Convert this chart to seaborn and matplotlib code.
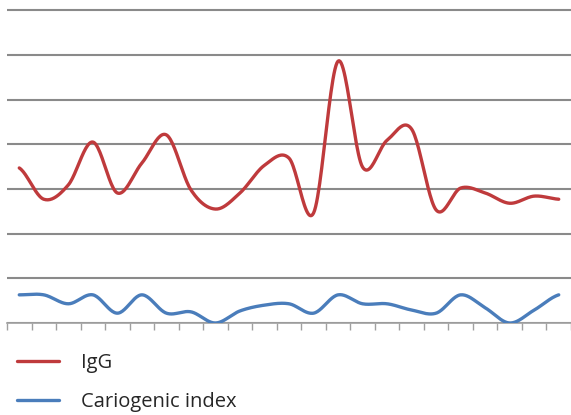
import numpy as np
import pandas as pd
import matplotlib
matplotlib.use("Agg")
import matplotlib.pyplot as plt
import seaborn as sns

# values, in gridline units (axis = 0, top gridline = 7)
igg = [3.47, 2.77, 3.09, 4.05, 2.91, 3.58, 4.21, 2.98, 2.55, 2.91, 3.53, 3.69,
       2.46, 5.86, 3.49, 4.09, 4.34, 2.53, 3.02, 2.91, 2.68, 2.84, 2.77]
cariogenic = [0.63, 0.63, 0.43, 0.63, 0.22, 0.63, 0.22, 0.25, 0.00, 0.27, 0.40, 0.43,
              0.22, 0.63, 0.43, 0.43, 0.29, 0.22, 0.63, 0.34, 0.00, 0.29, 0.63]
series_names = ["IgG", "Cariogenic index"]
colors = ["#bf3a3c", "#4a7dbb"]


def smooth(y, n=24):
    # Excel-style smoothed line (Catmull-Rom via cubic Bezier segments)
    y = np.asarray(y, float)
    p = np.concatenate([[y[0]], y, [y[-1]]])
    xs, ys = [], []
    t = np.linspace(0, 1, n, endpoint=False)
    for i in range(len(y) - 1):
        p0, p1, p2, p3 = p[i], p[i + 1], p[i + 2], p[i + 3]
        c1 = p1 + (p2 - p0) / 6
        c2 = p2 - (p3 - p1) / 6
        ys.append((1 - t) ** 3 * p1 + 3 * (1 - t) ** 2 * t * c1
                  + 3 * (1 - t) * t ** 2 * c2 + t ** 3 * p2)
        xs.append(i + t)
    xs.append([len(y) - 1])
    ys.append([y[-1]])
    return np.concatenate(xs), np.concatenate(ys)


frames = []
for name, vals in zip(series_names, [igg, cariogenic]):
    sx, sy = smooth(vals)
    frames.append(pd.DataFrame({"x": sx, "y": sy, "series": name}))
df = pd.concat(frames, ignore_index=True)

sns.set_style("white")
plt.rcParams["font.family"] = ["Open Sans", "DejaVu Sans"]

fig = plt.figure(figsize=(5.71, 4.15), dpi=100)
ax = fig.add_axes([7 / 571, 92 / 415, 564 / 571, 315 / 415])

sns.lineplot(data=df, x="x", y="y", hue="series", palette=colors,
             estimator=None, sort=False, lw=2.4, ax=ax, zorder=3)

ax.set_xlim(-0.5, -0.5 + 564 / 24.6)
ax.set_ylim(0, 7.05)
ax.set_yticks(range(0, 8))
ax.yaxis.grid(True, color="#8a8a8a", lw=1.5)
ax.set_xticks(np.arange(-0.5, len(igg), 1))
ax.tick_params(axis="x", direction="out", length=5, width=1, color="#a0a0a0",
               labelbottom=False, bottom=True)
ax.tick_params(axis="y", length=0, labelleft=False)
for s in ["top", "left", "right"]:
    ax.spines[s].set_visible(False)
ax.spines["bottom"].set_color("#a0a0a0")
ax.spines["bottom"].set_linewidth(1.2)
ax.set_xlabel("")
ax.set_ylabel("")

handles, labels = ax.get_legend_handles_labels()
ax.get_legend().remove()
fig.legend(handles, labels, loc="upper left", bbox_to_anchor=(17 / 571, 1 - 353 / 415),
           frameon=False, handlelength=2.1, handletextpad=1.1,
           labelspacing=0.95, borderpad=0, borderaxespad=0,
           prop={"family": ["Open Sans", "DejaVu Sans"], "size": 14.5})

fig.savefig("out.png", dpi=100)
